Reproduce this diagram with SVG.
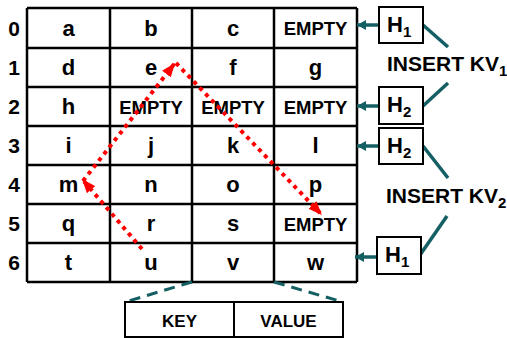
<svg xmlns="http://www.w3.org/2000/svg" width="507" height="338" viewBox="0 0 507 338">
<style>
text{font-family:"Liberation Sans",Arial,sans-serif;font-weight:bold;fill:#000}
.c{font-size:22px;text-anchor:middle}
.e{font-size:18.5px;text-anchor:middle}
.r{font-size:21px;text-anchor:middle}
.h{font-size:22px}
.sub{font-size:15px}
.ins{font-size:21px}
.kv{font-size:17px;text-anchor:middle}
.grid line{stroke:#000;stroke-width:2.5}
.box{fill:#fff;stroke:#000;stroke-width:2}
.teal{stroke:#145F63;stroke-width:3.5;fill:none}
.dash{stroke:#145F63;stroke-width:3;fill:none;stroke-dasharray:11 7}
.red{stroke:#FF0000;stroke-width:4;fill:none;stroke-dasharray:4 4.5}
</style>
<defs>
<marker id="ra" markerUnits="userSpaceOnUse" markerWidth="14" markerHeight="11" refX="14" refY="5.5" orient="auto"><path d="M0,0 L14,5.5 L0,11 z" fill="#FF0000"/></marker>
<marker id="ta" markerUnits="userSpaceOnUse" markerWidth="9" markerHeight="10" refX="9" refY="5" orient="auto"><path d="M0,0 L9,5 L0,10 z" fill="#145F63"/></marker>
</defs>
<g id="table">
<rect x="27" y="8" width="330" height="274" fill="#fff"/>
<g class="grid">
<line x1="27" y1="8" x2="357" y2="8"/><line x1="27" y1="48" x2="357" y2="48"/><line x1="27" y1="87" x2="357" y2="87"/><line x1="27" y1="126" x2="357" y2="126"/><line x1="27" y1="165" x2="357" y2="165"/><line x1="27" y1="204" x2="357" y2="204"/><line x1="27" y1="243" x2="357" y2="243"/><line x1="27" y1="282" x2="357" y2="282"/>
<line x1="27" y1="8" x2="27" y2="282"/><line x1="110" y1="8" x2="110" y2="282"/><line x1="192" y1="8" x2="192" y2="282"/><line x1="274" y1="8" x2="274" y2="282"/><line x1="357" y1="8" x2="357" y2="282"/>
</g>
<g id="rowlabels">
<text class="r" x="14" y="36">0</text><text class="r" x="14" y="75">1</text><text class="r" x="14" y="114">2</text><text class="r" x="14" y="153">3</text><text class="r" x="14" y="192">4</text><text class="r" x="14" y="231">5</text><text class="r" x="14" y="270">6</text>
</g>
<g id="cells">
<text class="c" x="68.5" y="36">a</text><text class="c" x="151" y="36">b</text><text class="c" x="233" y="36">c</text><text class="e" x="315.5" y="34.5">EMPTY</text>
<text class="c" x="68.5" y="75">d</text><text class="c" x="151" y="75">e</text><text class="c" x="233" y="75">f</text><text class="c" x="315.5" y="75">g</text>
<text class="c" x="68.5" y="114">h</text><text class="e" x="151" y="113.5">EMPTY</text><text class="e" x="233" y="113.5">EMPTY</text><text class="e" x="315.5" y="113.5">EMPTY</text>
<text class="c" x="68.5" y="153">i</text><text class="c" x="151" y="153">j</text><text class="c" x="233" y="153">k</text><text class="c" x="315.5" y="153">l</text>
<text class="c" x="68.5" y="192">m</text><text class="c" x="151" y="192">n</text><text class="c" x="233" y="192">o</text><text class="c" x="315.5" y="192">p</text>
<text class="c" x="68.5" y="231">q</text><text class="c" x="151" y="231">r</text><text class="c" x="233" y="231">s</text><text class="e" x="315.5" y="230.5">EMPTY</text>
<text class="c" x="68.5" y="270">t</text><text class="c" x="151" y="270">u</text><text class="c" x="233" y="270">v</text><text class="c" x="315.5" y="270">w</text>
</g>
</g>
<g id="connectors">
<path class="red" d="M142,249 L82,179" marker-end="url(#ra)"/>
<path class="red" d="M83,181 L175,63" marker-end="url(#ra)"/>
<path class="red" d="M176,63 L322,215" marker-end="url(#ra)"/>
<line class="teal" x1="379" y1="25" x2="357" y2="25" marker-end="url(#ta)"/>
<line class="teal" x1="379" y1="106" x2="357" y2="106" marker-end="url(#ta)"/>
<line class="teal" x1="379" y1="146" x2="357" y2="146" marker-end="url(#ta)"/>
<line class="teal" x1="377" y1="257" x2="355" y2="257" marker-end="url(#ta)"/>
<line class="teal" x1="423" y1="25" x2="448" y2="47"/>
<line class="teal" x1="448" y1="83" x2="423" y2="106"/>
<line class="teal" x1="423" y1="146" x2="448" y2="178"/>
<line class="teal" x1="447" y1="216" x2="420" y2="255"/>
<line class="dash" x1="192" y1="282" x2="125" y2="302"/>
<line class="dash" x1="274" y1="282" x2="343" y2="302"/>
</g>
<g id="h1a"><rect class="box" x="379" y="7" width="44" height="36"/><text class="h" x="387" y="32">H<tspan class="sub" dy="5">1</tspan></text></g>
<g id="h2a"><rect class="box" x="379" y="87" width="44" height="37"/><text class="h" x="387" y="112">H<tspan class="sub" dy="5">2</tspan></text></g>
<g id="h2b"><rect class="box" x="379" y="128" width="44" height="36"/><text class="h" x="387" y="153">H<tspan class="sub" dy="5">2</tspan></text></g>
<g id="h1b"><rect class="box" x="377" y="237" width="44" height="37"/><text class="h" x="385" y="262">H<tspan class="sub" dy="5">1</tspan></text></g>
<g id="insert1"><text class="ins" x="387" y="71">INSERT KV<tspan class="sub" dy="5">1</tspan></text></g>
<g id="insert2"><text class="ins" x="386" y="203">INSERT KV<tspan class="sub" dy="5">2</tspan></text></g>
<g id="kvbox">
<rect class="box" x="125" y="302" width="218" height="35"/>
<line x1="234" y1="302" x2="234" y2="337" stroke="#000" stroke-width="2"/>
<text class="kv" x="179.5" y="327">KEY</text>
<text class="kv" x="288.5" y="327">VALUE</text>
</g>
</svg>
